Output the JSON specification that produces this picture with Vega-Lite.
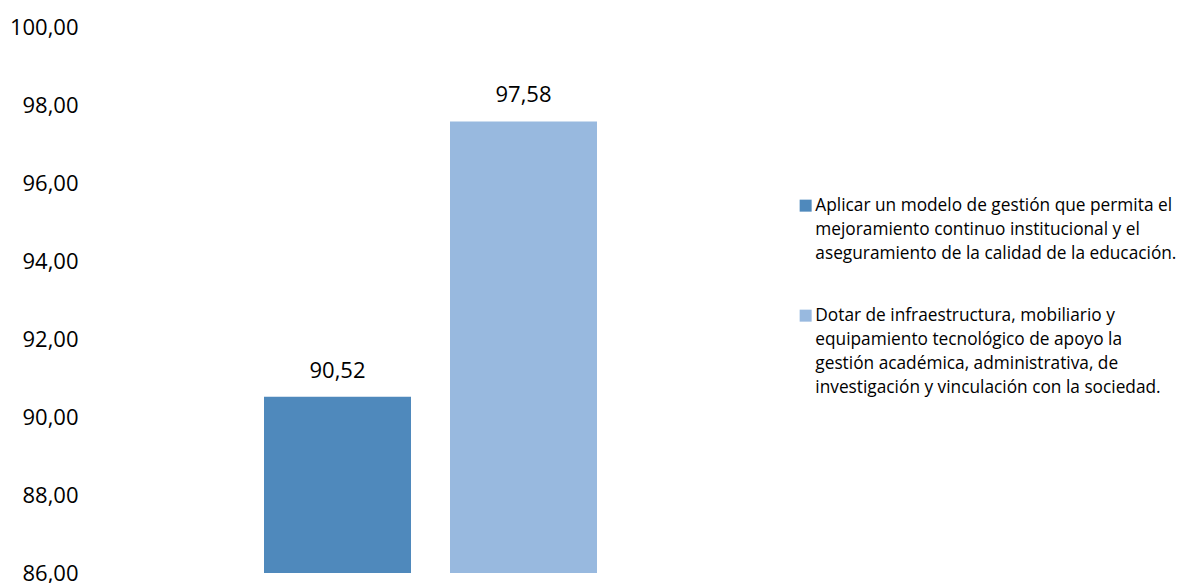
{
  "$schema": "https://vega.github.io/schema/vega-lite/v6.json",
  "autosize": "none",
  "padding": {"left": 95, "top": 27, "right": 421, "bottom": 10},
  "width": 671,
  "height": 546,
  "background": "white",
  "config": {
    "locale": {"number": {"decimal": ",", "thousands": ".", "grouping": [3], "currency": ["", ""]}},
    "font": "Open Sans",
    "view": {"stroke": null}
  },
  "data": {
    "values": [
      {"objetivo": "Aplicar un modelo de gestión que permita el mejoramiento continuo institucional y el aseguramiento de la calidad de la educación.", "valor": 90.52},
      {"objetivo": "Dotar de infraestructura, mobiliario y equipamiento tecnológico de apoyo la gestión académica, administrativa, de investigación y vinculación con la sociedad.", "valor": 97.58}
    ]
  },
  "encoding": {
    "x": {
      "field": "objetivo",
      "type": "nominal",
      "sort": null,
      "axis": null,
      "scale": {"paddingInner": 0.2097, "paddingOuter": 0.9086}
    },
    "y": {
      "field": "valor",
      "type": "quantitative",
      "scale": {"domain": [86, 100], "zero": false, "clamp": true},
      "axis": {
        "title": null,
        "values": [86, 88, 90, 92, 94, 96, 98, 100],
        "format": ".2f",
        "domain": false,
        "ticks": false,
        "grid": false,
        "labelFontSize": 22,
        "labelColor": "#000000",
        "labelPadding": 17
      }
    }
  },
  "layer": [
    {
      "mark": {"type": "bar", "clip": true},
      "encoding": {
        "color": {
          "field": "objetivo",
          "type": "nominal",
          "sort": null,
          "scale": {"range": ["#4f89bc", "#98b9df"]},
          "legend": {
            "title": null,
            "orient": "none",
            "legendX": 702,
            "legendY": 170,
            "symbolType": "square",
            "symbolSize": 144,
            "symbolStrokeWidth": 0,
            "labelFontSize": 17.3,
            "labelColor": "#000000",
            "labelOffset": 1,
            "labelLimit": 500,
            "rowPadding": 44,
            "labelExpr": "indexof(datum.label, 'Aplicar') == 0 ? ['Aplicar un modelo de gestión que permita el', 'mejoramiento continuo institucional y el', 'aseguramiento de la calidad de la educación.'] : ['Dotar de infraestructura, mobiliario y', 'equipamiento tecnológico de apoyo la', 'gestión académica, administrativa, de', 'investigación y vinculación con la sociedad.']",
            "encode": {"labels": {"update": {"lineHeight": {"value": 24}}}}
          }
        }
      }
    },
    {
      "mark": {"type": "text", "baseline": "bottom", "dy": -14, "fontSize": 22, "color": "#000000"},
      "encoding": {
        "text": {"field": "valor", "type": "quantitative", "format": ".2f"}
      }
    }
  ]
}
